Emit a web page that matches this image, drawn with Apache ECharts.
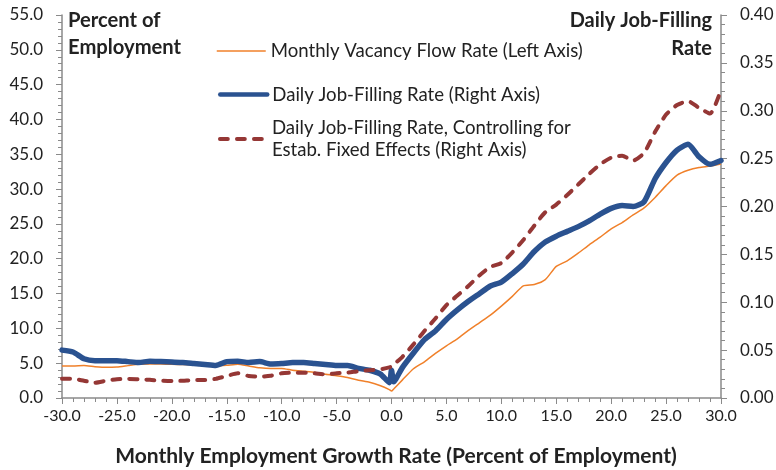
<!DOCTYPE html>
<html><head><meta charset="utf-8">
<script src="https://cdn.jsdelivr.net/npm/echarts@6/dist/echarts.min.js"></script>
<style>html,body{margin:0;padding:0;background:#fff}#c{width:776px;height:470px}</style>
</head><body><div id="c"></div>
<script>
// Monthly employment growth rate (percent of employment)
const growth = [-30,-29,-28,-27,-26,-25,-24,-23,-22,-21,-20,-19,-18,-17,-16,-15,-14,-13,-12,-11,-10,-9,-8,-7,-6,-5,-4,-3,-2,-1,-0.2,0,0.2,1,2,3,4,5,6,7,8,9,10,11,12,13,14,15,16,17,18,19,20,21,22,23,24,25,26,27,28,29,30];
// Monthly vacancy flow rate (left axis, percent)
const vacancyFlow = [4.6,4.6,4.65,4.5,4.4,4.45,4.65,4.85,4.9,4.9,4.85,4.8,4.75,4.7,4.6,4.7,4.85,4.6,4.35,4.25,4.25,4.0,3.85,3.7,3.4,3.2,2.95,2.55,2.25,1.75,1.2,1.0,1.3,2.6,4.2,5.2,6.4,7.5,8.5,9.7,10.8,11.9,13.2,14.6,16.1,16.3,17.0,18.9,19.7,20.8,22.0,23.1,24.3,25.2,26.3,27.3,28.8,30.5,32.0,32.7,33.1,33.3,33.6];
// Daily job-filling rate (right axis)
const jobFilling = [0.050,0.048,0.041,0.039,0.039,0.039,0.038,0.037,0.0385,0.038,0.0375,0.037,0.036,0.035,0.034,0.038,0.0385,0.037,0.038,0.0355,0.036,0.037,0.037,0.036,0.035,0.034,0.034,0.031,0.029,0.025,0.016,0.029,0.017,0.032,0.047,0.061,0.070,0.082,0.092,0.101,0.109,0.117,0.121,0.130,0.140,0.153,0.163,0.169,0.174,0.179,0.185,0.192,0.198,0.201,0.200,0.205,0.229,0.246,0.259,0.265,0.252,0.244,0.248];
// Daily job-filling rate, controlling for establishment fixed effects (right axis)
const jobFillingFE = [0.020,0.020,0.018,0.016,0.018,0.0195,0.020,0.0195,0.019,0.018,0.0177,0.018,0.0187,0.0187,0.020,0.023,0.0258,0.023,0.0223,0.0233,0.0258,0.0265,0.0265,0.0258,0.0247,0.0258,0.0265,0.028,0.029,0.030,0.032,0.033,0.035,0.043,0.056,0.070,0.083,0.097,0.107,0.117,0.128,0.137,0.141,0.152,0.165,0.180,0.194,0.202,0.212,0.223,0.234,0.244,0.251,0.253,0.248,0.256,0.278,0.296,0.306,0.310,0.303,0.297,0.322];

const seriesNames = ['Monthly Vacancy Flow Rate (Left Axis)','Daily Job-Filling Rate (Right Axis)','Daily Job-Filling Rate, Controlling for Estab. Fixed Effects (Right Axis)'];
const xTitle = 'Monthly Employment Growth Rate (Percent of Employment)';
const leftTitle = 'Percent of\nEmployment';
const rightTitle = 'Daily Job-Filling\nRate';

const FONT = 'Lato';
const AX = '#8a8a8a';
const TXT = '#222';
const pair = arr => growth.map((x, i) => [x, arr[i]]);

const axisCommon = {
  axisLine: {show: true, onZero: false, lineStyle: {color: AX, width: 1.5}},
  axisTick: {show: true, length: 6, lineStyle: {color: AX, width: 1}},
  minorTick: {show: true, splitNumber: 5, length: 4, lineStyle: {color: AX, width: 1}},
  splitLine: {show: false}
};
const legendCommon = {
  orient: 'vertical', padding: 0, itemWidth: 48, itemHeight: 20,
  itemStyle: {opacity: 0, color: 'transparent', borderColor: 'transparent', borderWidth: 0},
  textStyle: {fontFamily: FONT, fontSize: 18.6, color: TXT, lineHeight: 20}
};

const chart = echarts.init(document.getElementById('c'), null, {renderer: 'canvas'});
chart.setOption({
  animation: false,
  backgroundColor: '#fff',
  textStyle: {fontFamily: FONT},
  grid: {left: 62, right: 55, top: 15, bottom: 72, outerBoundsMode: 'none'},
  legend: [
    Object.assign({}, legendCommon, {data: [seriesNames[0]], left: 216, top: 41, itemWidth: 49, lineStyle: {width: 1.5}}),
    Object.assign({}, legendCommon, {data: [seriesNames[1]], left: 218, top: 84.5, itemWidth: 47, lineStyle: {width: 4.5}}),
    Object.assign({}, legendCommon, {data: [seriesNames[2]], left: 218, top: 106, itemWidth: 47, lineStyle: {width: 3.8},
      formatter: () => 'Daily Job-Filling Rate, Controlling for\nEstab. Fixed Effects (Right Axis)',
      textStyle: {fontFamily: FONT, fontSize: 18.6, color: TXT, lineHeight: 22, padding: [22, 0, 0, 0]}})
  ],
  xAxis: Object.assign({}, axisCommon, {
    type: 'value', min: -30, max: 30, interval: 5,
    axisLabel: {margin: 10, fontSize: 16, color: TXT, fontFamily: FONT, formatter: v => v.toFixed(1)},
    name: xTitle, nameLocation: 'middle', nameGap: 48,
    nameTextStyle: {fontFamily: FONT, fontWeight: 'bold', fontSize: 21, color: TXT, padding: [0, 0, 0, 9]}
  }),
  yAxis: [
    Object.assign({}, axisCommon, {
      type: 'value', position: 'left', min: 0, max: 55, interval: 5,
      axisLabel: {margin: 19, fontSize: 17, color: TXT, fontFamily: FONT, formatter: v => v.toFixed(1)},
      name: leftTitle, nameLocation: 'end', nameGap: 8,
      nameTextStyle: {fontFamily: FONT, fontWeight: 'bold', fontSize: 20.2, color: TXT, lineHeight: 27,
        align: 'left', verticalAlign: 'top', padding: [0, 0, 0, 6]}
    }),
    Object.assign({}, axisCommon, {
      type: 'value', position: 'right', min: 0, max: 0.4, interval: 0.05,
      axisLabel: {margin: 19, fontSize: 17, color: TXT, fontFamily: FONT, formatter: v => v.toFixed(2)},
      name: rightTitle, nameLocation: 'end', nameGap: 8,
      nameTextStyle: {fontFamily: FONT, fontWeight: 'bold', fontSize: 20, color: TXT, lineHeight: 28,
        align: 'right', verticalAlign: 'top', padding: [0, 9, 0, 0]}
    })
  ],
  series: [
    {name: seriesNames[0], type: 'line', yAxisIndex: 0, data: pair(vacancyFlow), symbol: 'none', smooth: 0.2,
      lineStyle: {color: '#F0802A', width: 1.5}, itemStyle: {color: '#F0802A'}},
    {name: seriesNames[1], type: 'line', yAxisIndex: 1, data: pair(jobFilling), symbol: 'none', smooth: 0.2,
      lineStyle: {color: '#2A5290', width: 5.5, cap: 'round', join: 'round'}, itemStyle: {color: '#2A5290'}},
    {name: seriesNames[2], type: 'line', yAxisIndex: 1, data: pair(jobFillingFE), symbol: 'none', smooth: 0.2,
      lineStyle: {color: '#953735', width: 4, type: [8, 9], cap: 'round', join: 'round'}, itemStyle: {color: '#953735'}}
  ]
});
</script></body></html>
